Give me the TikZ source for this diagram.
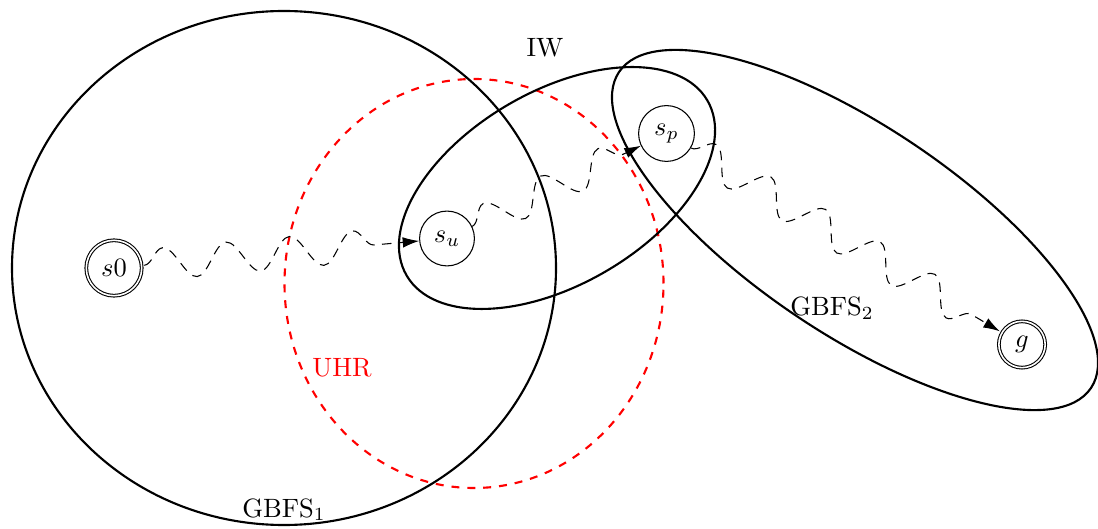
\documentclass[tikz,border=0pt]{standalone}
\usetikzlibrary{decorations.pathmorphing,arrows.meta}
\begin{document}
\begin{tikzpicture}[x=0.3774pt,y=0.3774pt,
  state/.style={circle,draw,thin,inner sep=3.33pt},
  goal/.style={state,double,double distance=0.6pt,outer sep=1pt},
  region/.style={draw,thick},
  uhr/.style={draw=red,thick,dashed},
  wavy/.style={draw,thin,dash pattern=on 3.6pt off 2.8pt,-{Latex[length=6.2pt,width=4pt]},
    decorate,decoration={snake,amplitude=6pt,segment length=24pt,post length=2mm}},
  lbl/.style={anchor=base,inner sep=0pt}]
\useasboundingbox (0,0) rectangle (1098,528);

% search regions
\draw[region] (284,260) ellipse [x radius=272, y radius=257];
\draw[uhr] (474,244.5) ellipse [x radius=189.5, y radius=204.5];
\draw[region, rotate around={30.2:(557,340)}] (557,340) ellipse [x radius=174, y radius=96.6];
\draw[region, rotate around={-33.8:(855,298)}] (855,298) ellipse [x radius=284, y radius=104];

% region labels
\node[lbl] (lIW) at (545,471) {IW};
\node[lbl] (lG1) at (284,11) {GBFS$_1$};
\node[lbl] (lG2) at (832,212) {GBFS$_2$};
\node[lbl,text=red] (lUHR) at (342,151) {UHR};

% states
\node[goal] (s0) at (114,260) {$s0$};
\node[state] (su) at (447,289.5) {$s_u$};
\node[state] (sp) at (666.5,394.5) {$s_p$};
\node[goal] (g) at (1022,183.5) {$g$};

% search paths
\draw[wavy] (s0) -- (su);
\draw[wavy] (su) -- (sp);
\draw[wavy] (sp) -- (g);
\end{tikzpicture}
\end{document}
